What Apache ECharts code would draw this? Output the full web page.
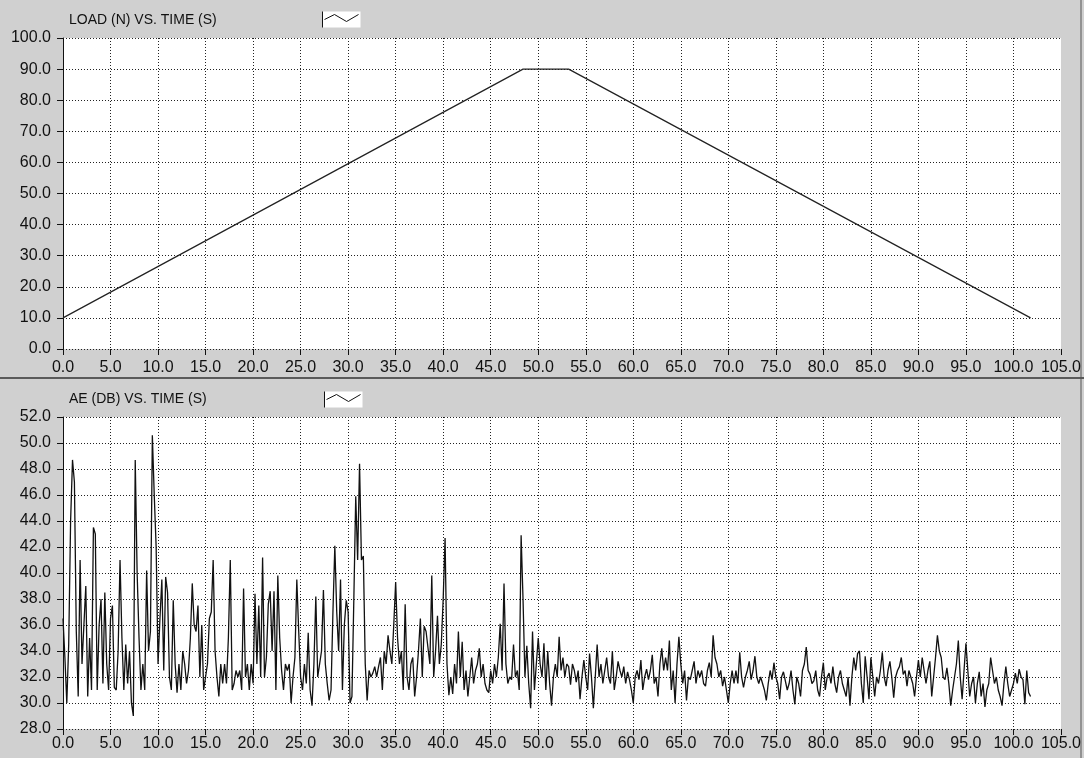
<!DOCTYPE html>
<html>
<head>
<meta charset="utf-8">
<script src="https://cdn.jsdelivr.net/npm/echarts@6/dist/echarts.min.js"></script>
<style>
html,body{margin:0;padding:0;background:#d0d0d0;}
#main{width:1084px;height:758px;}
</style>
</head>
<body>
<div id="main"></div>
<script>
// load curve break points: time (s) and load (N)
const loadTime = [0, 48.4, 53.2, 101.8];
const loadValue = [10, 90, 90, 10];

// AE amplitude (dB), one sample every 0.2 s starting at 0 s
const aeStep = 0.2;
const aeDb = [
  36.5,33.5,30.0,34.5,44.0,  48.7,47.0,35.5,30.5,41.0,  33,36,39,30.5,35,  31,43.5,43,31,36,
  38,31.5,38.5,33,31,  36.5,37.5,31.2,31,34,  41,35,31,34.5,31.5,  34,30,29,48.7,40,
  35,31,33,31,40.2,  34,35.5,50.6,46,42,  33,36.5,39.5,32.5,39.7,  38.5,32,31,37.9,33,
  30.8,33,31,34,33,  31.5,32.5,35,39.2,36,  35.5,37.5,32,36,31,  31,33,36.5,37,41,
  34,32,30.5,33,31.5,  33,31.5,35,41,31,  31.5,32.5,32,32.5,31,  38.8,32,33,31,33,
  31.5,38.4,33,37.5,32,  41.2,32,33.5,37.6,38.6,  34,38.6,31,39.8,35,  32.5,31,33,32.5,33,
  30,32,33.5,39.5,35.5,  32,31,33,31.5,35.4,  31,29.8,33,38.2,32,  33,34,38.7,33,31.5,
  30.2,31,37,42.1,37,  34,39.5,31,36,37.9,  37,30,30.5,38,45.9,  41,48.4,41,41.3,33,
  30.2,32.5,32,32.3,32.8,  32,32.8,33.5,31,34,  33,35.2,34,33,36,  39.3,35,33,34,31,
  37.6,32,31,33,33.5,  30.5,32,34,36.5,32,  35.9,35.5,35.5,33,39.8,  32,34,36.7,33,34.5,
  38,42.7,33,30.6,32,  30.7,33,31.5,35.5,32,  34.7,31,32.5,30.5,32,  33.5,31.5,32.5,33,34.2,
  32,33,31.5,31,30.8,  32.5,31.5,33,32,33.5,  36.1,32.5,39.2,33,31.5,  32,31.8,34.5,32,32.5,
  31,42.9,38,32,34.4,  31.5,29.6,35.5,31,33,  35,33,32,34.6,31,  34,31.5,29.8,32,33,
  32,35.1,32.5,33.5,32,  33,32.8,31.4,33,32.5,  31.6,32.5,30.3,32,33.3,  32,31,33.8,32,29.6,
  32,34.5,32,33,31.5,  32.5,33.5,32,31.5,34,  31,32,33.2,32.5,32,  32.8,31.5,32.4,31.8,31,
  30,32,32.5,31.8,33.3,  31,32,32.6,31.8,32.5,  33.7,31.5,32,30.5,33,  34.2,32.5,33.5,32.5,34.8,
  31,32.5,30,33,35.1,  33,31.5,32.5,30.2,32,  31.8,32.5,33.2,31.5,32.5,  32,32.5,31.5,31.3,32.5,
  33.1,32,35.2,33.5,33,  32,32.5,31.3,32,31,  30,31.5,32.5,31.5,32.5,  31.5,33.9,32,31.2,32,
  32.5,33.2,31.8,32.5,33.6,  32,31.5,32,31.5,31,  30.2,31.5,32.5,31.8,33.1,  32,31.5,30.3,32,32.4,
  32.5,31,31.5,32.5,31,  29.9,32,31.5,30.5,32.5,  33,34.3,32.5,32.2,31.5,  31.7,32.5,31,30.5,32,
  33.1,31,32,32.3,31.5,  32.8,31.5,30.8,32,32.5,  31.5,31,30.5,32,29.8,  32,33.5,32.5,33.8,34,
  31.5,30,33.6,32,30.3,  33.5,32,30.5,32,31.5,  32.5,33.9,32,31.3,32.5,  33.2,32,30.4,32,32.5,
  32.8,33.5,32.2,32.5,31.3,  32.5,32,31.5,30.5,32,  33.3,32,33.5,32.5,31.5,  32.5,33.2,30.5,32,33.5,
  35.2,34,33.5,32,31.8,  32.7,31.5,29.8,31,32,  33,34.8,32,30.3,32.5,  34.6,32.5,30.5,31.5,32,
  30,31.5,32.4,30.5,31.5,  29.7,31,31.5,33.5,32.5,  31.5,32,31,30.5,29.8,  31.5,32.8,31.5,30.5,31,
  31.5,32.3,31.5,32.6,32,  31.8,29.9,32.5,30.8,30.5
];

const timeMin = 0, timeMax = 105, timeStep = 5;
const loadMin = 0, loadMax = 100, loadStep = 10;
const aeMin = 28, aeMax = 52, aeStepTick = 2;

const loadData = loadTime.map((t, i) => [t, loadValue[i]]);
const aeData = aeDb.map((v, i) => [+(i * aeStep).toFixed(1), v]);

const font = '"Liberation Sans", Arial, sans-serif';
const labelStyle = { color: '#111', fontSize: 16, fontFamily: font };

function xAxisOf(idx, margin) {
  return {
    type: 'value', gridIndex: idx, min: timeMin, max: timeMax, interval: timeStep,
    axisLine: { show: false },
    axisTick: { show: true, length: 6, lineStyle: { color: '#111' } },
    axisLabel: Object.assign({ margin: margin, formatter: v => v.toFixed(1) }, labelStyle),
    splitLine: { show: true, showMinLine: false, showMaxLine: false, lineStyle: { color: '#222', type: [1, 2], width: 1 } }
  };
}
function yAxisOf(idx, min, max, step) {
  return {
    type: 'value', gridIndex: idx, min: min, max: max, interval: step,
    axisLine: { show: true, lineStyle: { color: '#111', width: 1 } },
    axisTick: { show: true, length: 6, lineStyle: { color: '#111' } },
    axisLabel: Object.assign({ margin: 12, formatter: v => v.toFixed(1) }, labelStyle),
    splitLine: { show: true, lineStyle: { color: '#222', type: [1, 2], width: 1 } }
  };
}
function legendIcon(x, y) {
  return {
    type: 'group', left: x, top: y,
    children: [
      { type: 'rect', shape: { x: 0, y: 0, width: 38, height: 16 }, style: { fill: '#fff' } },
      { type: 'line', shape: { x1: 0, y1: 0, x2: 0, y2: 16 }, style: { stroke: '#111', lineWidth: 1 } },
      { type: 'polyline', shape: { points: [[2, 8], [12, 3], [24, 10], [36, 3]] }, style: { stroke: '#111', lineWidth: 1, fill: null } }
    ]
  };
}

const chart = echarts.init(document.getElementById('main'));
chart.setOption({
  backgroundColor: '#d0d0d0',
  animation: false,
  title: [
    { text: 'LOAD (N) VS. TIME (S)', left: 64, top: 8, textStyle: { color: '#111', fontSize: 14, fontWeight: 'normal', fontFamily: font } },
    { text: 'AE (DB) VS. TIME (S)', left: 64, top: 387, textStyle: { color: '#111', fontSize: 14, fontWeight: 'normal', fontFamily: font } }
  ],
  grid: [
    { left: 63, top: 38, width: 1002, height: 311, show: true, backgroundColor: '#fff', borderWidth: 0 },
    { left: 63, top: 417, width: 1002, height: 312, show: true, backgroundColor: '#fff', borderWidth: 0 }
  ],
  xAxis: [xAxisOf(0, 11), xAxisOf(1, 7)],
  yAxis: [yAxisOf(0, loadMin, loadMax, loadStep), yAxisOf(1, aeMin, aeMax, aeStepTick)],
  series: [
    { type: 'line', xAxisIndex: 0, yAxisIndex: 0, data: loadData, showSymbol: false, lineStyle: { color: '#222', width: 1.2 } },
    { type: 'line', xAxisIndex: 1, yAxisIndex: 1, data: aeData, showSymbol: false, sampling: 'none', lineStyle: { color: '#111', width: 1.3 } }
  ],
  graphic: [
    legendIcon(320, 9),
    legendIcon(322, 389),
    { type: 'line', shape: { x1: 0, y1: 378, x2: 1084, y2: 378 }, style: { stroke: '#333', lineWidth: 1.5 } },
    { type: 'line', shape: { x1: 1081, y1: 0, x2: 1081, y2: 758 }, style: { stroke: '#555', lineWidth: 1 } }
  ]
});
window.addEventListener('resize', chart.resize);
</script>
</body>
</html>
